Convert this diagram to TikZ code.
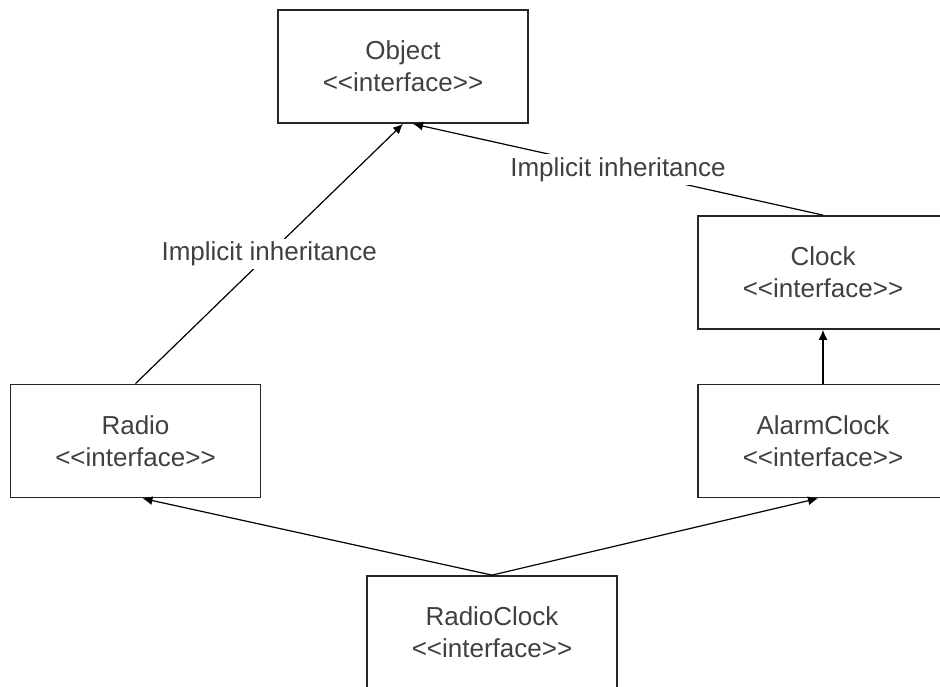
\documentclass[tikz,border=0pt]{standalone}
\usepackage{fontspec}
\setmainfont{Liberation Sans}
\usetikzlibrary{shapes,positioning,arrows.meta,calc}
\newcommand{\stereo}{<\kern0pt<interface>\kern0pt>}

\begin{document}
\begin{tikzpicture}[x=0.5pt,y=-0.5pt,
	iface/.style={draw=black!85,line width=0.9pt,minimum width=125pt,minimum height=56.5pt,
		align=center,font=\fontsize{13}{16}\selectfont,text=black!75},
	inh/.style={-{Latex[length=5pt,width=4.5pt]},line width=0.6pt},
	lbl/.style={fill=white,inner sep=1.5pt,font=\fontsize{13}{16}\selectfont,text=black!75}]
				\clip (0,0) rectangle (940,686);
				\node[iface](object) at (403,66.5) {Object\\\stereo};
				\node[iface](clock) at (823,272.5) {Clock\\\stereo};
				\node[iface](radio) at (135.5,441) {Radio\\\stereo};
				\node[iface](alarm) at (823,441) {AlarmClock\\\stereo};
				\node[iface](rclock) at (492,632.5) {RadioClock\\\stereo};
				
				\draw[inh] (radio.north) -- node[lbl]{Implicit inheritance} (object.south);
				\draw[inh] (clock.north) -- node[lbl]{Implicit inheritance} ($(object.south)+(10,0)$);
				\draw[inh] (alarm.north) -- (clock.south);
				\draw[inh] (rclock.north) -- ($(radio.south)+(7,0)$);
				\draw[inh] (rclock.north) -- ($(alarm.south)+(-5,0)$);
			\end{tikzpicture}
\end{document}
